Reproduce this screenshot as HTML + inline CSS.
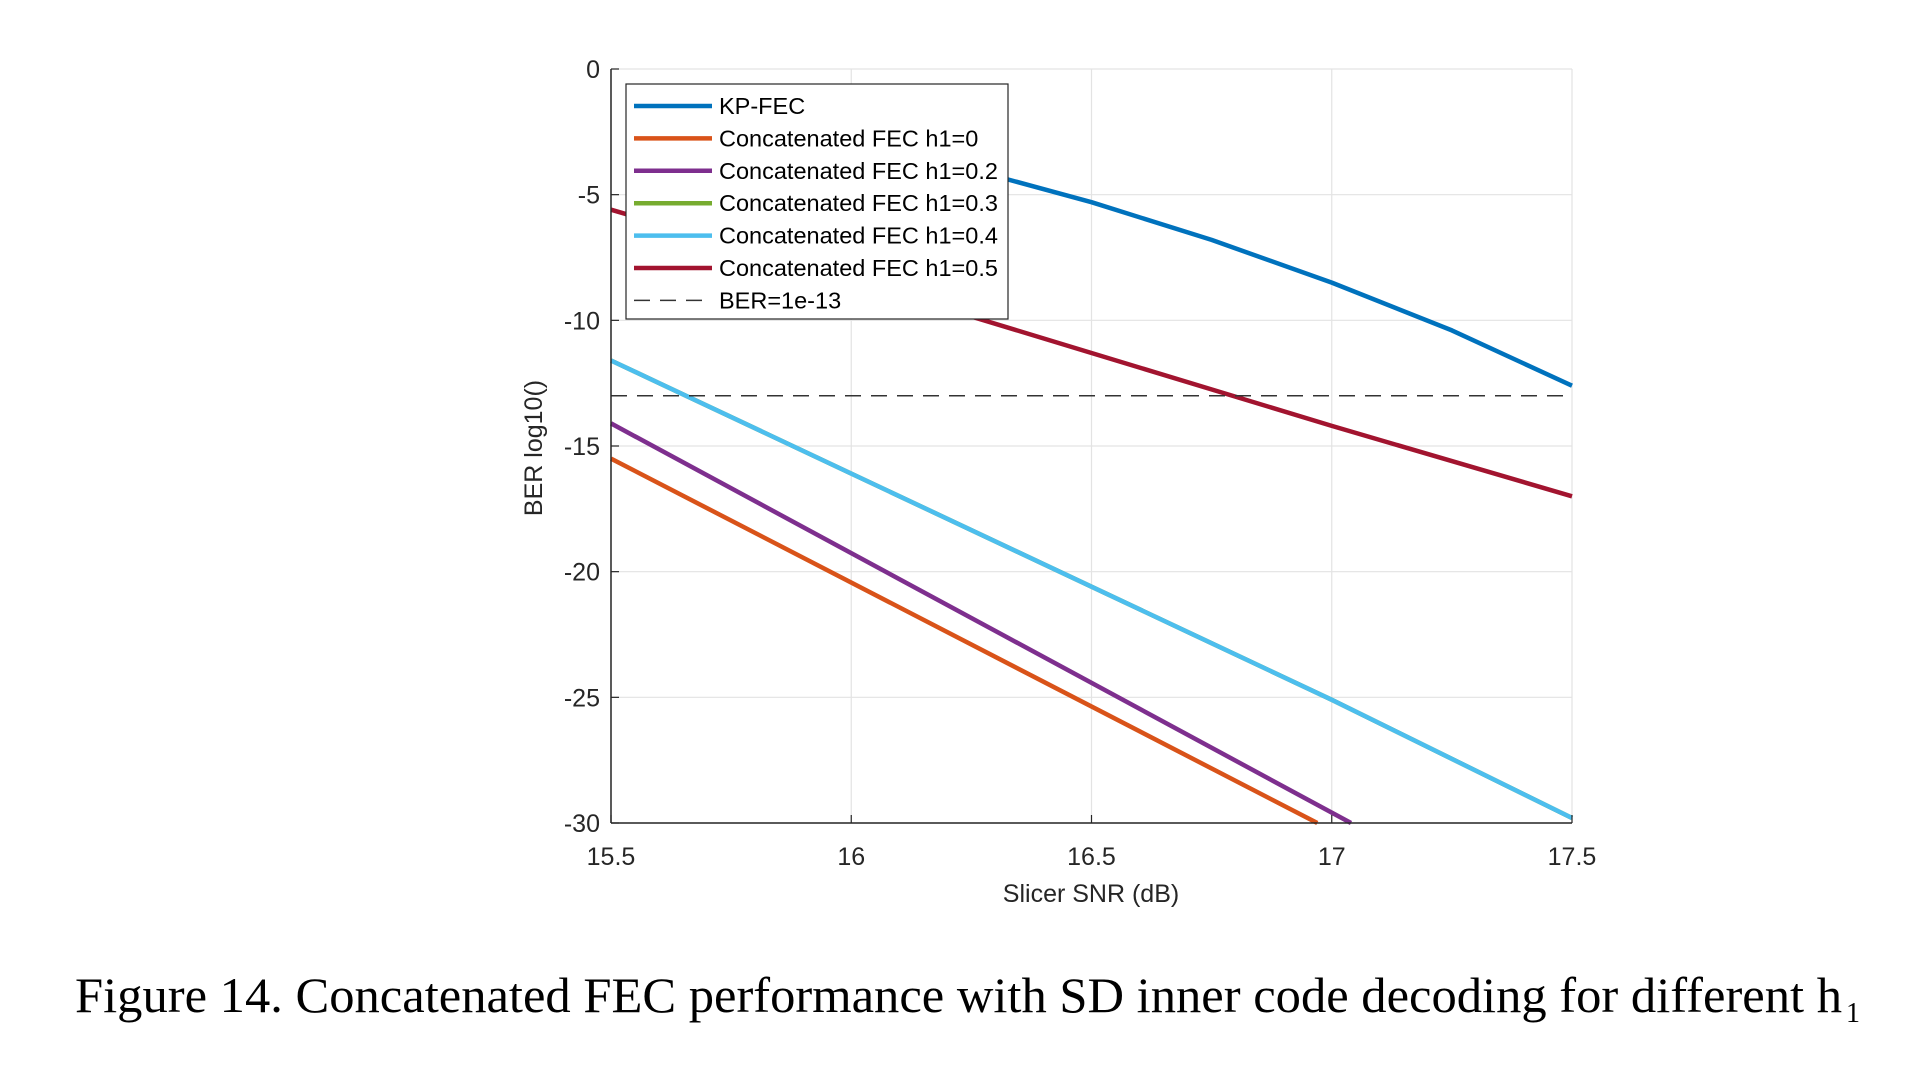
<!DOCTYPE html>
<html><head><meta charset="utf-8"><style>
html,body{margin:0;padding:0;background:#fff;}
svg{display:block;}
</style></head><body>
<svg id="chart" width="1915" height="1075" viewBox="0 0 1915 1075" xmlns="http://www.w3.org/2000/svg" font-family="Liberation Sans, Arial, sans-serif">
<rect width="1915" height="1075" fill="#fff"/>
<g id="grid"></g>
<g id="series"></g>
<g id="axes"></g>
<g id="legend"></g>
<text x="1091" y="902" font-size="25" text-anchor="middle" fill="#262626">Slicer SNR (dB)</text>
<text transform="translate(542,448) rotate(-90)" font-size="25" text-anchor="middle" fill="#262626">BER log10()</text>
<text x="75" y="1012" font-family="Liberation Serif, Times New Roman, serif" font-size="50" textLength="1767" lengthAdjust="spacingAndGlyphs" fill="#000">Figure 14. Concatenated FEC performance with SD inner code decoding for different h</text>
<text x="1846" y="1022" font-family="Liberation Serif, Times New Roman, serif" font-size="28" fill="#000">1</text>
</svg>
<script>
const xTicks = [15.5, 16, 16.5, 17, 17.5];
const xTickLabels = ["15.5", "16", "16.5", "17", "17.5"];
const yTicks = [0, -5, -10, -15, -20, -25, -30];
const yTickLabels = ["0", "-5", "-10", "-15", "-20", "-25", "-30"];
const kpX = [15.75, 16, 16.25, 16.5, 16.75, 17, 17.25, 17.5];
const kpY = [-2.0, -2.9, -4.0, -5.3, -6.8, -8.5, -10.4, -12.6];
const h0X = [15.5, 16.97];
const h0Y = [-15.5, -30];
const h02X = [15.5, 17.04];
const h02Y = [-14.1, -30];
const h03X = [15.5, 16, 16.5, 17, 17.5];
const h03Y = [-11.6, -16.1, -20.6, -25.1, -29.8];
const h04X = [15.5, 16, 16.5, 17, 17.5];
const h04Y = [-11.6, -16.1, -20.6, -25.1, -29.8];
const h05X = [15.5, 16, 16.5, 17, 17.5];
const h05Y = [-5.6, -8.4, -11.3, -14.2, -17.0];
const berLevel = -13;

const X0 = 611, X1 = 1572, Y0 = 69, Y1 = 823;
const xMin = 15.5, xMax = 17.5, yMin = -30, yMax = 0;
function sx(v){ return X0 + (v - xMin) / (xMax - xMin) * (X1 - X0); }
function sy(v){ return Y0 + (yMax - v) / (yMax - yMin) * (Y1 - Y0); }
const NS = "http://www.w3.org/2000/svg";
function mk(tag, attrs, parent){ const e = document.createElementNS(NS, tag); for (const k in attrs) e.setAttribute(k, attrs[k]); parent.appendChild(e); return e; }

const grid = document.getElementById('grid');
const axes = document.getElementById('axes');
const series = document.getElementById('series');
const legend = document.getElementById('legend');

mk('rect', {x: X0, y: Y0, width: X1 - X0, height: Y1 - Y0, fill: '#fff'}, grid);
xTicks.forEach((t, i) => {
  const gl = mk('line', {x1: sx(t), x2: sx(t), y1: Y0, y2: Y1, stroke: '#e3e3e3', 'stroke-width': 1.2}, grid);
  
  
  const tk = mk('line', {x1: sx(t), x2: sx(t), y1: Y1, y2: Y1 - 8, stroke: '#262626', 'stroke-width': 1.2}, axes);
  
  
  const tl = mk('text', {x: sx(t), y: Y1 + 42, 'font-size': 25, 'text-anchor': 'middle', fill: '#262626'}, axes);
  tl.textContent = xTickLabels[i];
  
  
});
yTicks.forEach((t, i) => {
  const gl = mk('line', {x1: X0, x2: X1, y1: sy(t), y2: sy(t), stroke: '#e3e3e3', 'stroke-width': 1.2}, grid);
  
  
  const tk = mk('line', {x1: X0, x2: X0 + 8, y1: sy(t), y2: sy(t), stroke: '#262626', 'stroke-width': 1.2}, axes);
  
  
  const tl = mk('text', {x: X0 - 11, y: sy(t) + 9, 'font-size': 25, 'text-anchor': 'end', fill: '#262626'}, axes);
  tl.textContent = yTickLabels[i];
  
  
});
const la = mk('line', {x1: X0, x2: X0, y1: Y0, y2: Y1, stroke: '#262626', 'stroke-width': 1.5}, axes);


const ba = mk('line', {x1: X0, x2: X1, y1: Y1, y2: Y1, stroke: '#262626', 'stroke-width': 1.5}, axes);



function line(xs, ys, color, name){
  const pts = xs.map((x, i) => sx(x).toFixed(1) + ',' + sy(ys[i]).toFixed(1)).join(' ');
  const p = mk('polyline', {points: pts, fill: 'none', stroke: color, 'stroke-width': 4.5, 'stroke-linejoin': 'round'}, series);
  
  
}
line(kpX, kpY, '#0072BD', 'kp-fec-line');
line(h0X, h0Y, '#D95319', 'h1-0-line');
line(h02X, h02Y, '#7E2F8E', 'h1-0.2-line');
line(h03X, h03Y, '#77AC30', 'h1-0.3-line');
line(h04X, h04Y, '#4DBEEE', 'h1-0.4-line');
line(h05X, h05Y, '#A2142F', 'h1-0.5-line');
const ber = mk('line', {x1: X0, x2: X1, y1: sy(berLevel), y2: sy(berLevel), stroke: '#333', 'stroke-width': 1.5, 'stroke-dasharray': '16,10'}, series);



const lbox = mk('rect', {x: 626, y: 84, width: 382, height: 235, fill: '#fff', stroke: '#262626', 'stroke-width': 1.2}, legend);


const legLabels = ['KP-FEC', 'Concatenated FEC h1=0', 'Concatenated FEC h1=0.2', 'Concatenated FEC h1=0.3', 'Concatenated FEC h1=0.4', 'Concatenated FEC h1=0.5', 'BER=1e-13'];
const legColors = ['#0072BD', '#D95319', '#7E2F8E', '#77AC30', '#4DBEEE', '#A2142F', '#333'];
legLabels.forEach((lab, i) => {
  const y = 106 + i * 32.4;
  const dashed = i === 6;
  const ln = mk('line', {x1: 634, x2: 712, y1: y, y2: y, stroke: legColors[i], 'stroke-width': dashed ? 1.5 : 4.5}, legend);
  if (dashed) ln.setAttribute('stroke-dasharray', '16,10');
  
  
  const t = mk('text', {x: 719, y: y + 8, 'font-size': 23.5, fill: '#000'}, legend);
  t.textContent = lab;
  
  
});
</script>
</body></html>
